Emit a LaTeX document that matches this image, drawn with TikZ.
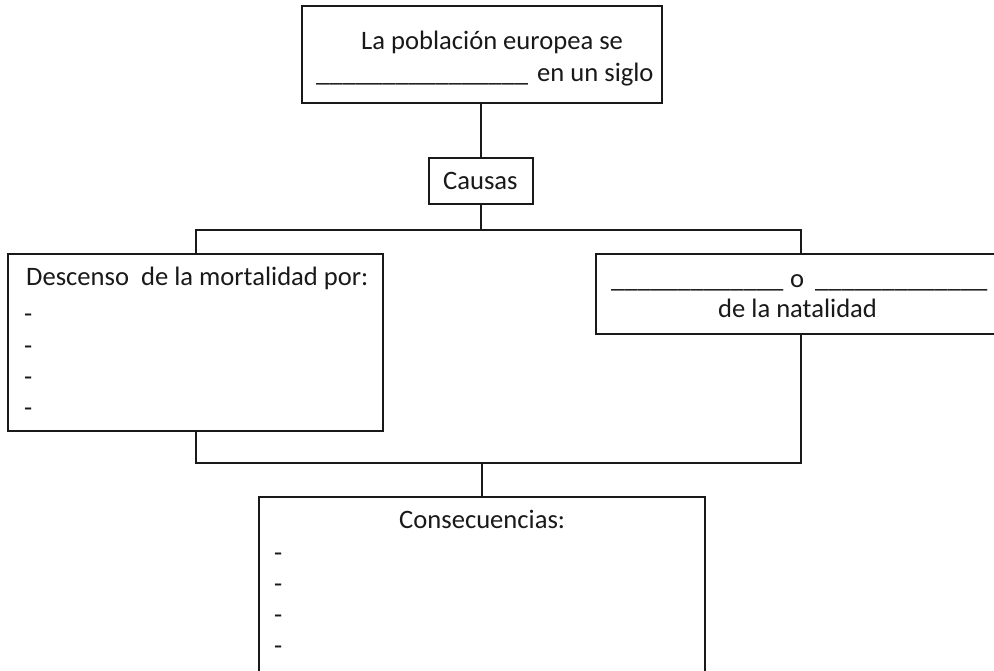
\documentclass[tikz,border=0pt]{standalone}
\usepackage{fontspec}
\setmainfont{Carlito}
\begin{document}
\begin{tikzpicture}[x=1pt,y=-1pt,
  box/.style={draw=black!90, line width=1.5pt, fill=white, inner sep=0pt, minimum width=#1},
  conn/.style={draw=black!90, line width=1.5pt},
  txt/.style={anchor=base west, inner sep=0pt, font=\fontsize{26.6}{31}\selectfont, text=black!90}]
\useasboundingbox (0,0) rectangle (994,671);
\clip (0,0) rectangle (994,671);
% boxes
\node[box=360pt, minimum height=97pt] (top) at (482,54.5) {};
\node[box=104pt, minimum height=46pt] (causas) at (481,181) {};
\node[box=375pt, minimum height=177pt] (left) at (195.5,342.5) {};
\node[box=404pt, minimum height=80pt] (right) at (798,294) {};
\node[box=446pt, minimum height=203pt] (bottom) at (482,598.5) {};
% junction points
\coordinate (jt) at (481,230);
\coordinate (jl) at (196,230);
\coordinate (jr) at (801,230);
\coordinate (bl) at (196,463);
\coordinate (br) at (801,463);
\coordinate (bm) at (482,463);
% connectors
\draw[conn] (top.south -| causas) -- (causas.north);
\draw[conn] (causas.south) -- (jt);
\draw[conn] (left.north -| jl) -- (jl) -- (jr) -- (right.north -| jr);
\draw[conn] (left.south -| bl) -- (bl) -- (br) -- (right.south -| br);
\draw[conn] (bm) -- (bottom.north);
% texts
\node[txt] (t1) at (361,50) {La población europea se};
\node[txt] (t2) at (316,82) {\_\_\_\_\_\_\_\_\_\_\_\_\_\_\_\_};
\node[txt] (t3) at (537,82) {en un siglo};
\node[txt] (c1) at (443,190) {Causas};
\node[txt] (d0) at (26,286) {Descenso\ \ de la mortalidad por:};
\node[txt] (d1) at (24,323) {-};
\node[txt] (d2) at (24,354) {-};
\node[txt] (d3) at (24,385) {-};
\node[txt] (d4) at (24,416) {-};
\node[txt] (r1) at (611,288) {\_\_\_\_\_\_\_\_\_\_\_\_\_};
\node[txt] (r2) at (790,288) {o};
\node[txt] (r3) at (815,288) {\_\_\_\_\_\_\_\_\_\_\_\_\_};
\node[txt] (r4) at (718,318) {de la natalidad};
\node[txt] (k0) at (399,528) {Consecuencias:};
\node[txt] (k1) at (274,561) {-};
\node[txt] (k2) at (274,592) {-};
\node[txt] (k3) at (274,623) {-};
\node[txt] (k4) at (274,654) {-};
\end{tikzpicture}
\end{document}
